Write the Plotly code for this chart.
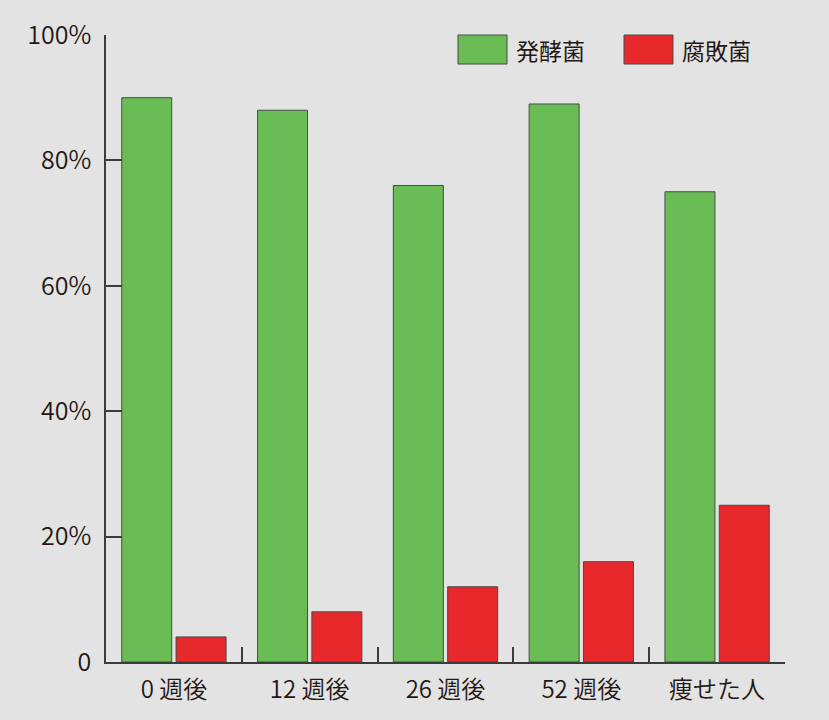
import plotly.graph_objects as go

# data
categories = ["0 週後", "12 週後", "26 週後", "52 週後", "痩せた人"]
fermentative = [90, 88, 76, 89, 75]   # 発酵菌
putrefactive = [4, 8, 12, 16, 25]     # 腐敗菌
ytick_vals = [0, 20, 40, 60, 80, 100]
ytick_text = ["0", "20%", "40%", "60%", "80%", "100%"]

GREEN = "#6abd55"
RED = "#e8292b"
INK = "#231815"
AXIS = "#3c3c3c"
BG = "#e3e3e3"
FONT = "Noto Sans CJK JP"

fig = go.Figure()
fig.add_trace(go.Bar(x=categories, y=fermentative, name="発酵菌",
                     marker=dict(color=GREEN, line=dict(color="#4a4a4a", width=1))))
fig.add_trace(go.Bar(x=categories, y=putrefactive, name="腐敗菌",
                     marker=dict(color=RED, line=dict(color="#4a4a4a", width=1))))

# hand-made legend with big swatches like the print version
for x0, x1, col, label in [(0.5184, 0.5906, GREEN, "発酵菌"), (0.7629, 0.835, RED, "腐敗菌")]:
    fig.add_shape(type="rect", xref="paper", yref="paper", x0=x0, x1=x1, y0=0.9537, y1=1.0,
                  fillcolor=col, line=dict(color="#4a4a4a", width=1))
    fig.add_annotation(xref="paper", yref="paper", x=x1 + 0.011, y=0.976, text=label,
                       showarrow=False, xanchor="left", yanchor="middle",
                       font=dict(family=FONT, size=23, color=INK, weight=400))

fig.update_layout(
    width=829,
    height=720,
    margin=dict(l=106, r=44, t=35, b=58),
    paper_bgcolor=BG,
    plot_bgcolor=BG,
    showlegend=False,
    barmode="group",
    bargap=0.2,
    bargroupgap=0.08,
    font=dict(family=FONT, color=INK, size=23),
    xaxis=dict(
        showline=True, linecolor=AXIS, linewidth=1.5,
        ticks="inside", tickson="boundaries", ticklen=15, tickwidth=1.5, tickcolor=AXIS,
        showgrid=False, zeroline=False,
        tickfont=dict(family=FONT, size=24, color=INK, weight=350),
        ticklabelstandoff=5,
    ),
    yaxis=dict(
        range=[0, 100],
        showline=True, linecolor=AXIS, linewidth=1.5,
        ticks="inside", ticklen=16, tickwidth=1.5, tickcolor=AXIS,
        tickvals=ytick_vals, ticktext=ytick_text,
        showgrid=False, zeroline=False,
        tickfont=dict(family=FONT, size=25, color=INK, weight=350),
        ticklabelstandoff=8,
    ),
)

# drop the default 8px body margin so the figure fills the window
fig.write_html("out.html", config={"displayModeBar": False},
               post_script="document.body.style.margin='0';document.body.style.background='#e3e3e3';")
